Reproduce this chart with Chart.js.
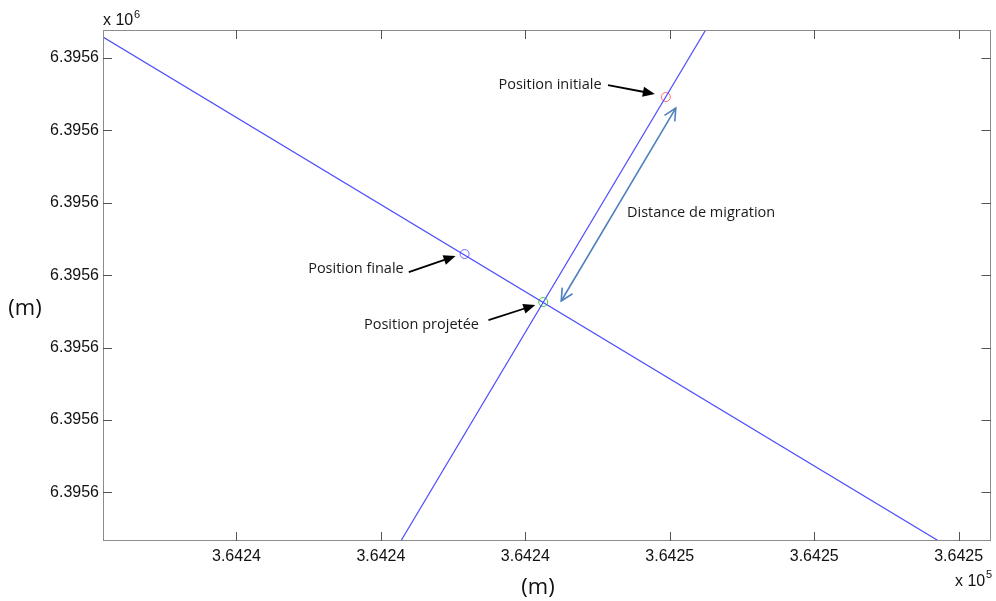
<!DOCTYPE html>
<html>
<head>
<meta charset="utf-8">
<script src="https://cdn.jsdelivr.net/npm/chart.js@4.4.1/dist/chart.umd.min.js"></script>
<style>
  html, body { margin: 0; padding: 0; background: #fff; }
  canvas { display: block; }
</style>
</head>
<body>
<canvas id="chartCanvas" width="996" height="601"></canvas>
<script>
// axes (metres, Lambert coordinates)
const xTickValues = [364240, 364242, 364244, 364246, 364248, 364250];
const xTickLabels = ["3.6424", "3.6424", "3.6424", "3.6425", "3.6425", "3.6425"];
const yTickValues = [6395597, 6395598, 6395599, 6395600, 6395601, 6395602, 6395603];
const yTickLabels = ["6.3956", "6.3956", "6.3956", "6.3956", "6.3956", "6.3956", "6.3956"];
const xRange = [364238.152, 364250.441];
const yRange = [6395596.329, 6395603.387];

// the two lines
const lineAX = [364238.152, 364249.724];
const lineAY = [6395603.290, 6395596.329];
const lineBX = [364242.276, 364246.497];
const lineBY = [6395596.329, 6395603.387];

// positions
const pointNames = ["Position initiale", "Position finale", "Position projetée"];
const pointX = [364245.945, 364243.159, 364244.248];
const pointY = [6395602.461, 6395600.293, 6395599.630];
const pointColors = ["#ff6a6a", "#6a6aff", "#3ad03a"];

// annotation texts, anchored in data coordinates (left edge, middle)
const noteTexts = ["Position initiale", "Distance de migration", "Position finale", "Position projetée"];
const noteX = [364243.628, 364245.407, 364240.993, 364241.766];
const noteY = [6395602.627, 6395600.859, 6395600.086, 6395599.312];

// black arrows: tail -> tip
const arrowFromX = [364245.145, 364242.386, 364243.490];
const arrowFromY = [6395602.627, 6395600.044, 6395599.381];
const arrowToX = [364245.793, 364243.034, 364244.138];
const arrowToY = [6395602.503, 6395600.265, 6395599.588];

// double arrow for the migration distance
const distX = [364244.497, 364246.083];
const distY = [6395599.644, 6395602.309];

const toXY = (xs, ys) => xs.map((x, i) => ({ x: x, y: ys[i] }));

function arrowHead(ctx, x1, y1, x2, y2, len, half, filled) {
  const a = Math.atan2(y2 - y1, x2 - x1);
  ctx.beginPath();
  ctx.moveTo(x2 - len * Math.cos(a) + half * Math.sin(a), y2 - len * Math.sin(a) - half * Math.cos(a));
  ctx.lineTo(x2, y2);
  ctx.lineTo(x2 - len * Math.cos(a) - half * Math.sin(a), y2 - len * Math.sin(a) + half * Math.cos(a));
  if (filled) {
    ctx.closePath();
    ctx.fill();
  } else {
    ctx.stroke();
  }
}

const decorations = {
  id: "decorations",
  afterDatasetsDraw(chart) {
    const ctx = chart.ctx;
    const a = chart.chartArea;
    const xs = chart.scales.x;
    const ys = chart.scales.y;
    ctx.save();

    // box and inward ticks, MATLAB style
    ctx.strokeStyle = "#8c8c8c";
    ctx.lineWidth = 1;
    ctx.strokeRect(Math.round(a.left) + 0.5, Math.round(a.top) + 0.5,
      Math.round(a.right - a.left) - 1, Math.round(a.bottom - a.top) - 1);
    ctx.strokeStyle = "#555";
    ctx.beginPath();
    xTickValues.forEach((v) => {
      const px = Math.round(xs.getPixelForValue(v)) + 0.5;
      ctx.moveTo(px, a.bottom); ctx.lineTo(px, a.bottom - 9);
      ctx.moveTo(px, a.top); ctx.lineTo(px, a.top + 9);
    });
    yTickValues.forEach((v) => {
      const py = Math.round(ys.getPixelForValue(v)) + 0.5;
      ctx.moveTo(a.left, py); ctx.lineTo(a.left + 9, py);
      ctx.moveTo(a.right, py); ctx.lineTo(a.right - 9, py);
    });
    ctx.stroke();

    // exponents
    ctx.fillStyle = "#111";
    ctx.textBaseline = "alphabetic";
    ctx.textAlign = "left";
    ctx.font = "16px 'Liberation Sans', Arial, sans-serif";
    ctx.fillText("x 10", a.left, 25);
    ctx.fillText("x 10", 955, 586);
    ctx.font = "11px 'Liberation Sans', Arial, sans-serif";
    ctx.fillText("6", a.left + 31, 18);
    ctx.fillText("5", 986, 578);

    // axis titles
    ctx.font = "22px 'Open Sans', sans-serif";
    ctx.textAlign = "center";
    ctx.textBaseline = "middle";
    ctx.fillText("(m)", 25, 309);
    ctx.fillText("(m)", 538, 588);

    // annotation texts
    ctx.font = "14.5px 'Open Sans', sans-serif";
    ctx.textAlign = "left";
    ctx.fillStyle = "#1a1a1a";
    noteTexts.forEach((t, i) => {
      ctx.fillText(t, xs.getPixelForValue(noteX[i]), ys.getPixelForValue(noteY[i]));
    });

    // black arrows
    ctx.strokeStyle = "#000";
    ctx.fillStyle = "#000";
    ctx.lineWidth = 1.8;
    arrowFromX.forEach((fx, i) => {
      const x1 = xs.getPixelForValue(fx), y1 = ys.getPixelForValue(arrowFromY[i]);
      const x2 = xs.getPixelForValue(arrowToX[i]), y2 = ys.getPixelForValue(arrowToY[i]);
      const ang = Math.atan2(y2 - y1, x2 - x1);
      ctx.beginPath();
      ctx.moveTo(x1, y1);
      ctx.lineTo(x2 - 8 * Math.cos(ang), y2 - 8 * Math.sin(ang));
      ctx.stroke();
      arrowHead(ctx, x1, y1, x2, y2, 12, 5, true);
    });

    // migration distance double arrow
    ctx.strokeStyle = "#4f81bd";
    ctx.lineWidth = 1.6;
    const dx1 = xs.getPixelForValue(distX[0]), dy1 = ys.getPixelForValue(distY[0]);
    const dx2 = xs.getPixelForValue(distX[1]), dy2 = ys.getPixelForValue(distY[1]);
    ctx.beginPath();
    ctx.moveTo(dx1, dy1);
    ctx.lineTo(dx2, dy2);
    ctx.stroke();
    arrowHead(ctx, dx1, dy1, dx2, dy2, 12, 6, false);
    arrowHead(ctx, dx2, dy2, dx1, dy1, 12, 6, false);
    ctx.restore();
  }
};

const ctx = document.getElementById("chartCanvas").getContext("2d");
new Chart(ctx, {
  type: "scatter",
  data: {
    datasets: [
      {
        data: toXY(lineAX, lineAY),
        showLine: true,
        borderColor: "#4b4bff",
        borderWidth: 1.2,
        pointRadius: 0,
      },
      {
        data: toXY(lineBX, lineBY),
        showLine: true,
        borderColor: "#4b4bff",
        borderWidth: 1.2,
        pointRadius: 0,
      },
      {
        label: "positions",
        data: toXY(pointX, pointY),
        pointRadius: 4.5,
        pointBorderWidth: 1,
        pointBorderColor: pointColors,
        pointBackgroundColor: "rgba(0,0,0,0)",
      },
    ],
  },
  options: {
    responsive: false,
    animation: false,
    devicePixelRatio: 1,
    layout: { padding: { top: 30, right: 2, left: 0, bottom: 0 } },
    plugins: { legend: { display: false }, tooltip: { enabled: false } },
    scales: {
      x: {
        type: "linear",
        min: xRange[0],
        max: xRange[1],
        grid: { display: false, drawTicks: false },
        border: { display: false },
        afterBuildTicks: (scale) => {
          scale.ticks = xTickValues.map((v) => ({ value: v }));
        },
        afterFit: (scale) => {
          scale.height = 60;
          scale.paddingLeft = 0;
          scale.paddingRight = 0;
        },
        ticks: {
          autoSkip: false,
          maxRotation: 0,
          padding: 6,
          color: "#111",
          font: { family: "'Liberation Sans', Arial, sans-serif", size: 16 },
          callback: (v, i) => xTickLabels[i],
        },
      },
      y: {
        type: "linear",
        min: yRange[0],
        max: yRange[1],
        grid: { display: false, drawTicks: false },
        border: { display: false },
        afterBuildTicks: (scale) => {
          scale.ticks = yTickValues.map((v) => ({ value: v }));
        },
        afterFit: (scale) => {
          scale.width = 103;
          scale.paddingTop = 0;
          scale.paddingBottom = 0;
        },
        ticks: {
          autoSkip: false,
          padding: 4,
          color: "#111",
          font: { family: "'Liberation Sans', Arial, sans-serif", size: 16 },
          callback: (v, i) => yTickLabels[i],
        },
      },
    },
  },
  plugins: [decorations],
});
</script>
</body>
</html>
